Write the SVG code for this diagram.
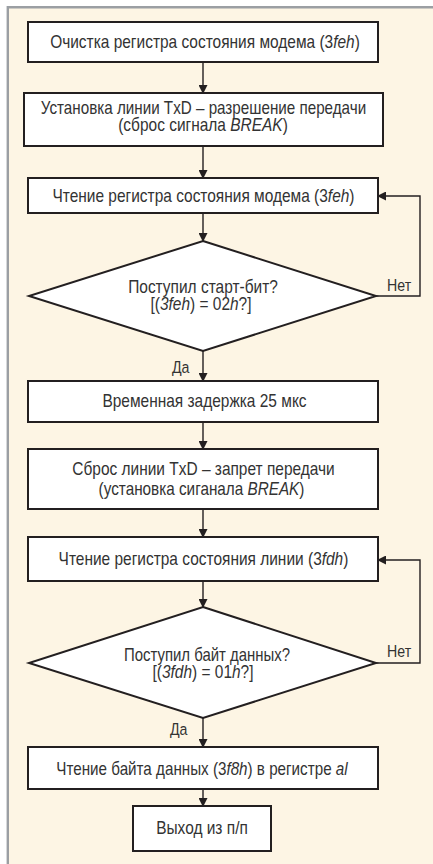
<svg xmlns="http://www.w3.org/2000/svg" width="433" height="864" viewBox="0 0 433 864">
<defs>
<marker id="arr" markerWidth="9" markerHeight="9" refX="8" refY="4.5" orient="auto" markerUnits="userSpaceOnUse">
<path d="M0,0 L9,4.5 L0,9 Z" fill="#231f20"/>
</marker>
<style>
.box{fill:#fff;stroke:#231f20;stroke-width:2}
.t{font-family:"Liberation Sans",Arial,sans-serif;font-size:18px;fill:#333;text-anchor:middle}
.l{font-family:"Liberation Sans",Arial,sans-serif;font-size:16.5px;fill:#333}
.i{font-style:italic}
.c{fill:none;stroke:#231f20;stroke-width:1.4;marker-end:url(#arr)}
</style>
</defs>
<rect x="0" y="0" width="433" height="864" fill="#fff"/>
<rect x="8" y="7" width="425" height="857" fill="#fdf5e4"/>
<path d="M7.8,864 V7.2 H433" fill="none" stroke="#9b9fa3" stroke-width="2.4"/>

<g id="connectors">
<path class="c" d="M203,62 V93"/>
<path class="c" d="M203,146 V178"/>
<path class="c" d="M203,213 V241"/>
<path class="c" d="M203,351 V381"/>
<path class="c" d="M203,422 V449"/>
<path class="c" d="M203,509 V537"/>
<path class="c" d="M203,581 V607"/>
<path class="c" d="M203,718 V747"/>
<path class="c" d="M203,789 V806"/>
<path class="c" d="M376,296 H420 V196 H378"/>
<path class="c" d="M376,663 H420 V560 H378"/>
<text class="l" x="387" y="291" transform="matrix(0.86 0 0 1 54.2 0)">Нет</text>
<text class="l" x="387" y="657" transform="matrix(0.86 0 0 1 54.2 0)">Нет</text>
<text class="l" x="172" y="373" transform="matrix(0.86 0 0 1 24.1 0)">Да</text>
<text class="l" x="170" y="735" transform="matrix(0.86 0 0 1 23.8 0)">Да</text>
</g>

<g id="n1">
<rect class="box" x="28" y="22" width="350" height="40"/>
<text class="t" x="205" y="48" transform="matrix(0.86 0 0 1 28.7 0)">Очистка регистра состояния модема (3<tspan class="i">feh</tspan>)</text>
</g>
<g id="n2">
<rect class="box" x="24" y="93" width="359" height="53"/>
<text class="t" x="203.5" y="114" transform="matrix(0.845 0 0 1 31.54 0)">Установка линии TxD – разрешение передачи</text>
<text class="t" x="203" y="131" transform="matrix(0.86 0 0 1 28.42 0)">(сброс сигнала <tspan class="i">BREAK</tspan>)</text>
</g>
<g id="n3">
<rect class="box" x="28" y="178" width="350" height="35"/>
<text class="t" x="203.5" y="202" transform="matrix(0.86 0 0 1 28.49 0)">Чтение регистра состояния модема (3<tspan class="i">feh</tspan>)</text>
</g>
<g id="n4">
<polygon class="box" points="203,241 376,296 203,351 29,296"/>
<text class="t" x="203" y="293" transform="matrix(0.86 0 0 1 28.42 0)">Поступил старт-бит?</text>
<text class="t" x="201" y="310" transform="matrix(0.86 0 0 1 28.14 0)">[(<tspan class="i">3feh</tspan>) = 02<tspan class="i">h</tspan>?]</text>
</g>
<g id="n5">
<rect class="box" x="28" y="381" width="350" height="41"/>
<text class="t" x="204.5" y="407" transform="matrix(0.86 0 0 1 28.63 0)">Временная задержка 25 мкс</text>
</g>
<g id="n6">
<rect class="box" x="28" y="449" width="350" height="60"/>
<text class="t" x="203.5" y="475" transform="matrix(0.86 0 0 1 28.49 0)">Сброс линии TxD – запрет передачи</text>
<text class="t" x="201.5" y="495" transform="matrix(0.85 0 0 1 30.23 0)">(установка сиганала <tspan class="i">BREAK</tspan>)</text>
</g>
<g id="n7">
<rect class="box" x="28" y="537" width="350" height="44"/>
<text class="t" x="203.5" y="565" transform="matrix(0.86 0 0 1 28.49 0)">Чтение регистра состояния линии (3<tspan class="i">fdh</tspan>)</text>
</g>
<g id="n8">
<polygon class="box" points="203,607 376,663 203,718 29,663"/>
<text class="t" x="207" y="661" transform="matrix(0.83 0 0 1 35.19 0)">Поступил байт данных?</text>
<text class="t" x="203" y="678" transform="matrix(0.86 0 0 1 28.42 0)">[(<tspan class="i">3fdh</tspan>) = 01<tspan class="i">h</tspan>?]</text>
</g>
<g id="n9">
<rect class="box" x="28" y="747" width="350" height="42"/>
<text class="t" x="202" y="775" transform="matrix(0.845 0 0 1 31.31 0)">Чтение байта данных (3<tspan class="i">f8h</tspan>) в регистре <tspan class="i">al</tspan></text>
</g>
<g id="n10">
<rect class="box" x="133" y="806" width="138" height="45"/>
<text class="t" x="202" y="834" transform="matrix(0.86 0 0 1 28.28 0)">Выход из п/п</text>
</g>
</svg>
